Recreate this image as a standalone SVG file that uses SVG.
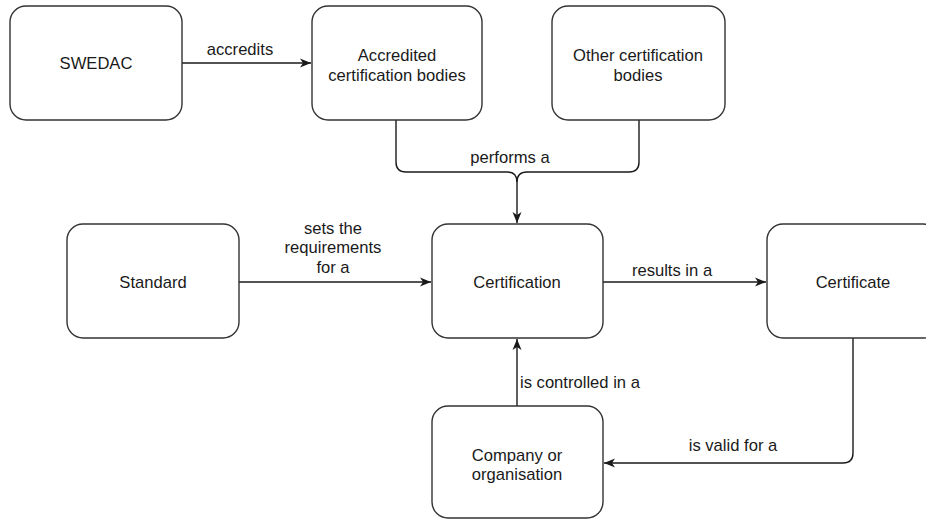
<svg xmlns="http://www.w3.org/2000/svg" width="926" height="520" viewBox="0 0 926 520">
<style>
.box{fill:#fff;stroke:#333;stroke-width:1.4}
.t{font-family:"Liberation Sans",Arial,Helvetica,sans-serif;font-size:16.6px;fill:#1a1a1a;text-anchor:middle}
.tl{text-anchor:start}
.c{fill:none;stroke:#1a1a1a;stroke-width:1.4}
</style>
<defs>
<marker id="arr" markerUnits="userSpaceOnUse" markerWidth="12" markerHeight="10" refX="11" refY="5" orient="auto">
<path d="M0,0.5 L11,5 L0,9.5 L3,5 Z" fill="#1a1a1a"/>
</marker>
</defs>
<rect width="926" height="520" fill="#fff"/>
<g id="connectors">
<path class="c" d="M182,63 H311" marker-end="url(#arr)"/>
<path class="c" d="M396,120 V162 Q396,172 406,172 H507 Q517,172 517,182 V223" marker-end="url(#arr)"/>
<path class="c" d="M639,120 V162 Q639,172 629,172 H527 Q517,172 517,182"/>
<path class="c" d="M239,282 H431" marker-end="url(#arr)"/>
<path class="c" d="M603,282 H766" marker-end="url(#arr)"/>
<path class="c" d="M517,406 V339" marker-end="url(#arr)"/>
<path class="c" d="M853,338 V453 Q853,463 843,463 H604" marker-end="url(#arr)"/>
<text class="t" x="240" y="55">accredits</text>
<text class="t" x="510" y="163">performs a</text>
<text class="t" x="333" y="234">sets the</text>
<text class="t" x="333" y="253">requirements</text>
<text class="t" x="333" y="273">for a</text>
<text class="t" x="672" y="276">results in a</text>
<text class="t tl" x="520" y="388">is controlled in a</text>
<text class="t" x="733" y="451">is valid for a</text>
</g>
<g id="swedac">
<rect class="box" x="10" y="6" width="172" height="114" rx="16"/>
<text class="t" x="96" y="69">SWEDAC</text>
</g>
<g id="accredited">
<rect class="box" x="312" y="6" width="170" height="114" rx="16"/>
<text class="t" x="397" y="61">Accredited</text>
<text class="t" x="397" y="81">certification bodies</text>
</g>
<g id="other">
<rect class="box" x="552" y="6" width="173" height="114" rx="16"/>
<text class="t" x="638" y="61">Other certification</text>
<text class="t" x="638" y="81">bodies</text>
</g>
<g id="standard">
<rect class="box" x="67" y="224" width="172" height="114" rx="16"/>
<text class="t" x="153" y="288">Standard</text>
</g>
<g id="certification">
<rect class="box" x="432" y="224" width="171" height="114" rx="16"/>
<text class="t" x="517" y="288">Certification</text>
</g>
<g id="certificate">
<rect class="box" x="767" y="224" width="172" height="114" rx="16"/>
<text class="t" x="853" y="288">Certificate</text>
</g>
<g id="company">
<rect class="box" x="432" y="406" width="171" height="112" rx="16"/>
<text class="t" x="517" y="461">Company or</text>
<text class="t" x="517" y="480">organisation</text>
</g>
</svg>
